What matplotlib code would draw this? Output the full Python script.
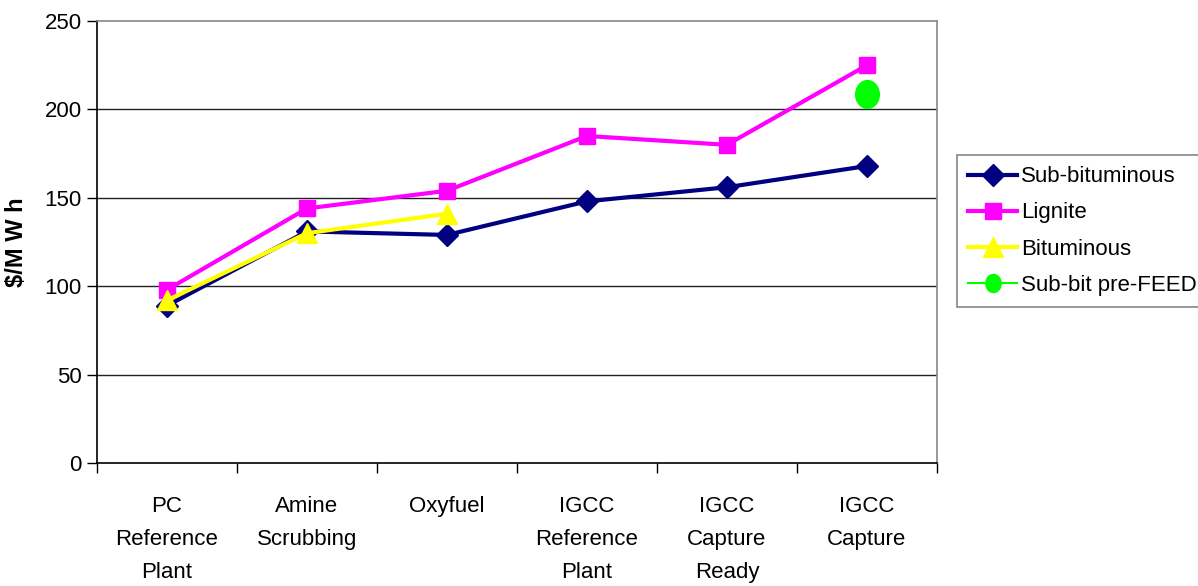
import matplotlib.pyplot as plt
import numpy as np
from matplotlib.path import Path

plt.rcParams['font.family'] = ['Liberation Sans', 'DejaVu Sans']

categories = ["PC\nReference\nPlant", "Amine\nScrubbing", "Oxyfuel",
              "IGCC\nReference\nPlant", "IGCC\nCapture\nReady", "IGCC\nCapture"]
sub_bituminous = [89, 131, 129, 148, 156, 168]
lignite = [98, 144, 154, 185, 180, 225]
bituminous = [92, 130, 141]
sub_bit_prefeed = [209]

x = np.arange(len(categories))

fig = plt.figure(figsize=(11.98, 5.86), dpi=100)
ax = fig.add_axes([0.081, 0.210, 0.701, 0.754])

# tall ellipse marker like the Excel circle
t = np.linspace(0, 2 * np.pi, 60)
ellipse = Path(np.column_stack([0.85 * np.cos(t), np.sin(t)]), closed=True)

ax.plot(x, sub_bituminous, color='#000080', lw=3, marker='D', ms=11,
        label='Sub-bituminous', zorder=3)
ax.plot(x, lignite, color='#FF00FF', lw=3, marker='s', ms=12,
        label='Lignite', zorder=4)
ax.plot(x[:3], bituminous, color='#FFFF00', lw=3, marker='^', ms=14,
        label='Bituminous', zorder=5)
ax.plot(x[5:], sub_bit_prefeed, color='#00FF00', lw=1.5, marker=ellipse, ms=20,
        label='Sub-bit pre-FEED', zorder=6)

ax.set_xlim(-0.5, 5.5)
ax.set_ylim(0, 250)
ax.set_yticks(range(0, 251, 50))
ax.set_xticks(x)
ax.set_xticklabels(categories, fontsize=16, linespacing=1.75)
ax.tick_params(axis='x', length=0, pad=24)
ax.set_xticks(np.arange(-0.5, 6, 1), minor=True)
ax.tick_params(axis='x', which='minor', length=7, width=1, direction='out')
ax.tick_params(axis='y', labelsize=16, length=7, width=1, direction='out', pad=4)

for v in [50, 100, 150, 200]:
    ax.axhline(v, color='#222222', lw=1, zorder=1)

ax.spines['left'].set_color('black')
ax.spines['bottom'].set_color('black')
ax.spines['top'].set_color('#888888')
ax.spines['right'].set_color('#888888')
for s in ax.spines.values():
    s.set_linewidth(1.2)

ax.set_ylabel('$/M W h', fontsize=17, fontweight='bold', labelpad=12)

leg = ax.legend(loc='center left', bbox_to_anchor=(1.024, 0.525), fontsize=16,
                frameon=True, fancybox=False, edgecolor='#666666',
                handlelength=2.2, borderpad=0.5, labelspacing=0.68,
                handletextpad=0.2, borderaxespad=0)
leg.get_frame().set_linewidth(1.2)
leg.legend_handles[3].set_markersize(13)

fig.savefig('out.png', dpi=100)
